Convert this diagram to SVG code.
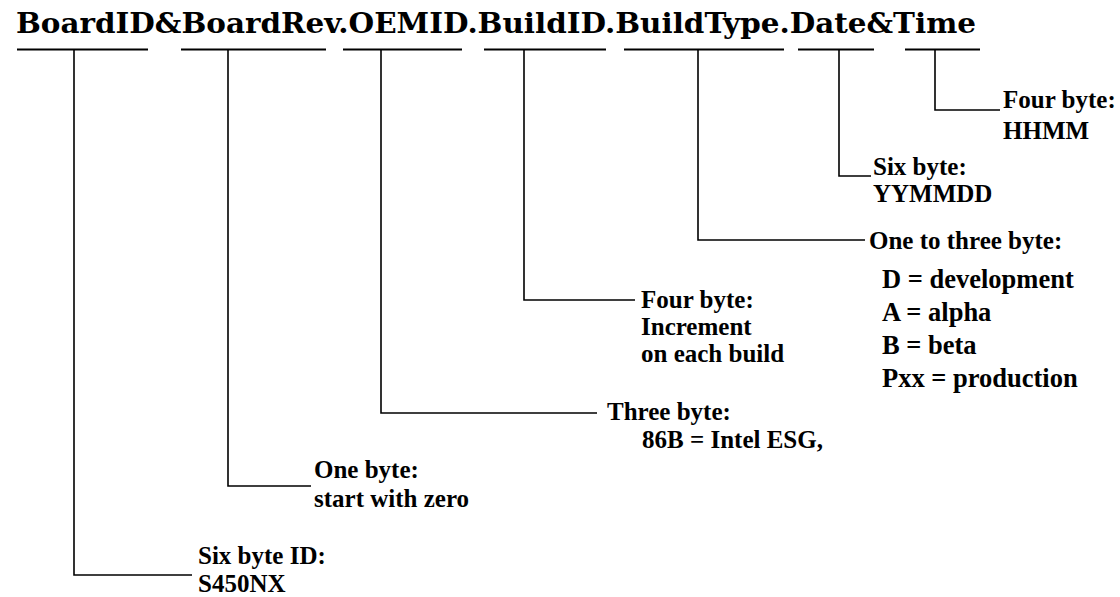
<svg xmlns="http://www.w3.org/2000/svg" width="1120" height="597" viewBox="0 0 1120 597">
  <style>
    .title { font-family: "DejaVu Serif", "Liberation Serif", serif; font-weight: bold; font-size: 28px; fill: #000; }
    .lbl { font-family: "Liberation Serif", "Times New Roman", serif; font-weight: bold; font-size: 25px; fill: #000; }
    .big { font-size: 26.5px; }
    .bar { stroke: #000; stroke-width: 2; fill: none; }
    .lead { stroke: #000; stroke-width: 1.6; fill: none; }
  </style>
  <rect width="1120" height="597" fill="#fff"/>

  <!-- ID string format -->
  <g id="id-string">
    <text class="title" x="16" y="33" textLength="960" lengthAdjust="spacingAndGlyphs">BoardID&amp;BoardRev.OEMID.BuildID.BuildType.Date&amp;Time</text>
  </g>

  <!-- field brackets and leader lines -->
  <g id="connectors">
    <line class="bar" x1="17" y1="49.5" x2="148" y2="49.5"/>
    <line class="bar" x1="181" y1="49.5" x2="326" y2="49.5"/>
    <line class="bar" x1="343" y1="49.5" x2="462" y2="49.5"/>
    <line class="bar" x1="484" y1="49.5" x2="606" y2="49.5"/>
    <line class="bar" x1="624" y1="49.5" x2="784" y2="49.5"/>
    <line class="bar" x1="798" y1="49.5" x2="874" y2="49.5"/>
    <line class="bar" x1="905" y1="49.5" x2="980" y2="49.5"/>

    <polyline class="lead" points="74,49.5 74,575 192,575"/>
    <polyline class="lead" points="228,49.5 228,486 311,486"/>
    <polyline class="lead" points="381,49.5 381,413 597,413"/>
    <polyline class="lead" points="524,49.5 524,300 635,300"/>
    <polyline class="lead" points="698,49.5 698,240 865,240"/>
    <polyline class="lead" points="839,49.5 839,176 871,176"/>
    <polyline class="lead" points="935,49.5 935,110 1000,110"/>
  </g>

  <g id="board-id">
    <text class="lbl" x="198" y="564">Six byte ID:</text>
    <text class="lbl" x="198" y="592">S450NX</text>
  </g>

  <g id="board-rev">
    <text class="lbl" x="314" y="478">One byte:</text>
    <text class="lbl" x="314" y="507">start with zero</text>
  </g>

  <g id="oem-id">
    <text class="lbl" x="607" y="420">Three byte:</text>
    <text class="lbl" x="642" y="448">86B = Intel ESG,</text>
  </g>

  <g id="build-id">
    <text class="lbl" x="641" y="308">Four byte:</text>
    <text class="lbl" x="641" y="335">Increment</text>
    <text class="lbl" x="641" y="362">on each build</text>
  </g>

  <g id="build-type">
    <text class="lbl" x="869" y="249">One to three byte:</text>
    <text class="lbl big" x="882" y="288">D = development</text>
    <text class="lbl big" x="882" y="321">A = alpha</text>
    <text class="lbl big" x="882" y="354">B = beta</text>
    <text class="lbl big" x="882" y="387">Pxx = production</text>
  </g>

  <g id="date">
    <text class="lbl" x="873" y="175">Six byte:</text>
    <text class="lbl" x="873" y="202">YYMMDD</text>
  </g>

  <g id="time">
    <text class="lbl" x="1003" y="108">Four byte:</text>
    <text class="lbl" x="1003" y="139">HHMM</text>
  </g>
</svg>
